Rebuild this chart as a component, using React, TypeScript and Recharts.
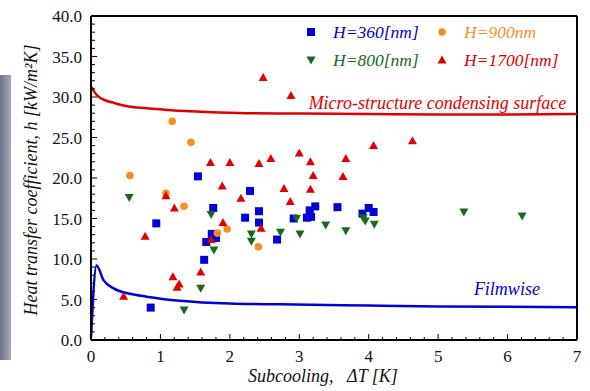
import React from 'react';
import { ComposedChart, XAxis, YAxis, Scatter, Line, Legend, ReferenceDot, ReferenceLine } from 'recharts';

const SERIF = "'Liberation Serif', 'Times New Roman', serif";

const BLUE = '#0000d8';
const ORANGE = '#ff8c1e';
const GREEN = '#156a1c';
const RED = '#e00000';

// H = 360 nm (blue squares)
const h360X = [0.86, 0.94, 1.54, 1.63, 1.66, 1.74, 1.80, 1.76, 2.22, 2.29, 2.42, 2.42, 2.68, 2.92, 3.11, 3.17, 3.15, 3.23, 3.55, 3.91, 4.00, 4.07];
const h360Y = [4.0, 14.4, 20.2, 9.9, 12.1, 13.1, 12.6, 16.3, 15.1, 18.4, 15.9, 14.5, 12.4, 15.0, 15.1, 15.2, 16.0, 16.5, 16.4, 15.6, 16.3, 15.8];

// H = 900 nm (orange circles)
const h900X = [0.56, 1.08, 1.17, 1.34, 1.44, 1.82, 1.96, 2.41];
const h900Y = [20.3, 18.1, 27.0, 16.5, 24.4, 13.2, 13.7, 11.5];

// H = 800 nm (green down triangles)
const h800X = [0.55, 1.34, 1.58, 1.73, 1.77, 2.31, 2.31, 2.73, 2.96, 3.01, 3.38, 3.67, 3.92, 3.95, 4.08, 5.37, 6.21];
const h800Y = [17.6, 3.7, 6.4, 15.5, 11.1, 13.1, 12.2, 13.3, 15.0, 13.1, 14.2, 13.5, 15.1, 14.7, 14.3, 15.8, 15.3];

// H = 1700 nm (red up triangles)
const h1700X = [0.47, 0.78, 1.08, 1.18, 1.20, 1.24, 1.27, 1.58, 1.72, 1.73, 1.89, 1.90, 2.0, 2.16, 2.42, 2.45, 2.48, 2.59, 2.78, 2.87, 2.88, 3.0, 3.16, 3.16, 3.20, 3.63, 3.67, 4.07, 4.63];
const h1700Y = [5.4, 12.8, 17.8, 7.8, 16.3, 6.5, 6.9, 8.4, 21.9, 12.4, 19.0, 14.5, 21.9, 17.5, 21.8, 13.8, 32.4, 22.4, 18.7, 17.1, 30.2, 23.1, 22.0, 18.6, 20.3, 20.2, 22.4, 24.0, 24.6];

// Micro-structure condensing surface model curve
const microX = [0, 0.05, 0.1, 0.2, 0.32, 0.5, 0.8, 1.28, 2.24, 3, 4, 5, 6, 7];
const microY = [31.3, 30.6, 30.1, 29.6, 29.3, 28.9, 28.6, 28.3, 28.0, 27.95, 27.9, 27.85, 27.85, 27.9];

// Filmwise model curve
const filmX = [0, 0.08, 0.18, 0.32, 0.56, 0.8, 1.28, 2.0, 2.72, 4, 5, 6, 7];
const filmY = [0.3, 9.2, 7.4, 6.4, 5.7, 5.35, 4.85, 4.5, 4.4, 4.25, 4.15, 4.1, 4.05];

const xTicks = Array.from({ length: 36 }, (_, i) => i / 5);
const yTicks = Array.from({ length: 41 }, (_, i) => i);

const zip = (xs: number[], ys: number[]) => xs.map((x, i) => ({ x, y: ys[i] }));

const d360 = zip(h360X, h360Y);
const d900 = zip(h900X, h900Y);
const d800 = zip(h800X, h800Y);
const d1700 = zip(h1700X, h1700Y);
const dMicro = zip(microX, microY);
const dFilm = zip(filmX, filmY);

const Square = (p: any) => <rect x={p.cx - 4} y={p.cy - 4} width={8} height={8} fill={p.fill} />;
const Circle = (p: any) => <circle cx={p.cx} cy={p.cy} r={3.8} fill={p.fill} />;
const TriUp = (p: any) => (
  <polygon points={`${p.cx},${p.cy - 4.5} ${p.cx + 4.5},${p.cy + 3.5} ${p.cx - 4.5},${p.cy + 3.5}`} fill={p.fill} />
);
const TriDown = (p: any) => (
  <polygon points={`${p.cx},${p.cy + 4.5} ${p.cx + 4.5},${p.cy - 3.5} ${p.cx - 4.5},${p.cy - 3.5}`} fill={p.fill} />
);

const XTick = (props: any) => {
  const { x, y, payload } = props;
  const v = payload.value;
  const major = Math.abs(v - Math.round(v)) < 1e-6;
  return (
    <g>
      <line x1={x} x2={x} y1={y} y2={y - (major ? 6 : 3)} stroke="#000" strokeWidth={1} />
      {major && (
        <text x={x} y={y + 22} textAnchor="middle" fontFamily={SERIF} fontSize={17} fill="#111">
          {Math.round(v)}
        </text>
      )}
    </g>
  );
};

const YTick = (props: any) => {
  const { x, y, payload } = props;
  const v = payload.value;
  const major = v % 5 === 0;
  return (
    <g>
      <line x1={x} x2={x + (major ? 6 : 4)} y1={y} y2={y} stroke="#000" strokeWidth={1} />
      {major && (
        <text x={x - 9} y={y + 6} textAnchor="end" fontFamily={SERIF} fontSize={17} fill="#111">
          {v.toFixed(1)}
        </text>
      )}
    </g>
  );
};

const legendItems = [
  { label: 'H=360[nm]', color: BLUE, Shape: Square, left: 311, top: 32 },
  { label: 'H=900nm', color: ORANGE, Shape: Circle, left: 442, top: 32 },
  { label: 'H=800[nm]', color: GREEN, Shape: TriDown, left: 311, top: 60 },
  { label: 'H=1700[nm]', color: RED, Shape: TriUp, left: 442, top: 60 },
];

const LegendContent = () => (
  <svg width={590} height={80} style={{ display: 'block' }}>
    {legendItems.map((it) => (
      <g key={it.label}>
        <it.Shape cx={it.left} cy={it.top} fill={it.color} />
        <text x={it.left + 22} y={it.top + 6} fontFamily={SERIF} fontStyle="italic" fontSize={17.5} fill={it.color}>
          {it.label}
        </text>
      </g>
    ))}
  </svg>
);

export default function App() {
  return (
    <div style={{ position: 'absolute', left: 0, top: 0, width: 590, height: 391, background: '#fff' }}>
      <div
        style={{
          position: 'absolute',
          left: 0,
          top: 75,
          width: 11,
          height: 285,
          background: 'linear-gradient(to right, #6c7184, #8f94a6 60%, #a9adba)',
        }}
      />
      <ComposedChart width={590} height={391} margin={{ top: 16, right: 13, left: 31, bottom: 21 }}>
        <XAxis
          dataKey="x"
          type="number"
          domain={[0, 7]}
          ticks={xTicks}
          interval={0}
          tickSize={0}
          tickMargin={0}
          tickLine={false}
          tick={<XTick />}
          height={30}
          axisLine={{ stroke: '#000', strokeWidth: 2 }}
          label={{
            content: () => (
              <text
                x={323}
                y={382}
                textAnchor="middle"
                fontFamily={SERIF}
                fontStyle="italic"
                fontSize={18}
                fill="#111"
                style={{ whiteSpace: 'pre' }}
              >
                {'Subcooling,   ΔT [K]'}
              </text>
            ),
          }}
        />
        <YAxis
          dataKey="y"
          type="number"
          domain={[0, 40]}
          ticks={yTicks}
          interval={0}
          tickSize={0}
          tickMargin={0}
          tickLine={false}
          tick={<YTick />}
          width={60}
          axisLine={{ stroke: '#000', strokeWidth: 2 }}
          label={{
            content: () => (
              <text
                transform="translate(37,180) rotate(-90)"
                textAnchor="middle"
                fontFamily={SERIF}
                fontStyle="italic"
                fontSize={18}
                fill="#111"
              >
                Heat transfer coefficient, h [kW/m²K]
              </text>
            ),
          }}
        />
        <ReferenceLine y={40} stroke="#000" strokeWidth={2} />
        <ReferenceLine x={7} stroke="#000" strokeWidth={2} />
        <Line
          data={dMicro}
          dataKey="y"
          type="monotone"
          stroke={RED}
          strokeWidth={2.5}
          dot={false}
          legendType="none"
          isAnimationActive={false}
        />
        <Line
          data={dFilm}
          dataKey="y"
          type="monotone"
          stroke={BLUE}
          strokeWidth={2.5}
          dot={false}
          legendType="none"
          isAnimationActive={false}
        />
        <Scatter name="H=360[nm]" data={d360} fill={BLUE} shape={Square} isAnimationActive={false} />
        <Scatter name="H=900nm" data={d900} fill={ORANGE} shape={Circle} isAnimationActive={false} />
        <Scatter name="H=800[nm]" data={d800} fill={GREEN} shape={TriDown} isAnimationActive={false} />
        <Scatter name="H=1700[nm]" data={d1700} fill={RED} shape={TriUp} isAnimationActive={false} />
        <ReferenceDot
          x={4.99}
          y={29.3}
          r={0}
          fill="none"
          stroke="none"
          label={{
            value: 'Micro-structure condensing surface',
            position: 'center',
            fill: RED,
            fontStyle: 'italic',
            fontFamily: SERIF,
            fontSize: 18,
          }}
        />
        <ReferenceDot
          x={5.99}
          y={6.4}
          r={0}
          fill="none"
          stroke="none"
          label={{
            value: 'Filmwise',
            position: 'center',
            fill: BLUE,
            fontStyle: 'italic',
            fontFamily: SERIF,
            fontSize: 18,
          }}
        />
        <Legend
          layout="horizontal"
          verticalAlign="middle"
          align="center"
          content={<LegendContent />}
          wrapperStyle={{ left: 0, top: 0, width: 590, height: 80 }}
        />
      </ComposedChart>
    </div>
  );
}
